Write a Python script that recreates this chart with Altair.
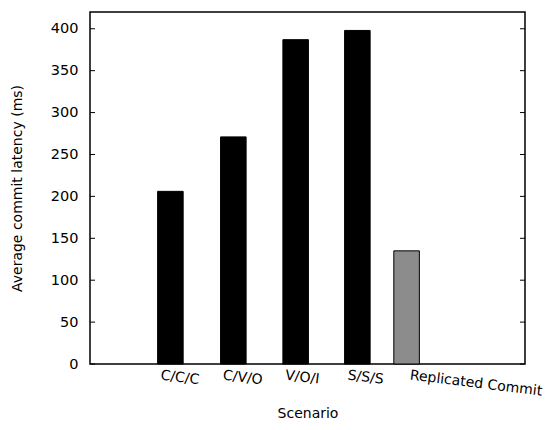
import altair as alt
import pandas as pd

categories = ["C/C/C", "C/V/O", "V/O/I", "S/S/S", "Replicated Commit"]
latency = [206, 271, 387, 398, 135]
bar_center = [0.15, 1.16, 2.16, 3.15, 3.94]
bar_style = ["solid", "solid", "solid", "solid", "hatch"]
tick_values = [0, 50, 100, 150, 200, 250, 300, 350, 400]
label_pos = [0, 1, 2, 3, 4]

W, H = 435, 352
half = 0.205
FONT = "DejaVu Sans"

df = pd.DataFrame({
    "cat": categories,
    "lat": latency,
    "base": [0] * len(latency),
    "x0": [c - half for c in bar_center],
    "x1": [c + half for c in bar_center],
    "style": bar_style,
})
ticks = pd.DataFrame({"v": tick_values})

label_expr = "[" + ",".join(f"'{c}'" for c in categories) + "][datum.value]"

xscale = alt.Scale(domain=[-1.14, 5.84], nice=False, zero=False)
yscale = alt.Scale(domain=[0, 420], nice=False)

bars = alt.Chart(df).mark_bar(stroke="black", strokeWidth=1).encode(
    x=alt.X("x0:Q", scale=xscale, axis=alt.Axis(
        values=label_pos, labelExpr=label_expr, title="Scenario",
        labelAngle=7, labelAlign="left", labelBaseline="top", labelPadding=4,
        ticks=False, domain=False, grid=False, labelFontSize=14,
        titleFontSize=14, titleFontWeight="normal", titleY=53,
        titleBaseline="alphabetic",
        labelFont=FONT, titleFont=FONT, labelColor="black",
        titleColor="black", labelOverlap=False, labelBound=False)),
    x2="x1:Q",
    y=alt.Y("lat:Q", scale=yscale, axis=alt.Axis(
        values=tick_values, title="Average commit latency (ms)", ticks=False,
        domain=False, grid=False, labelPadding=12, labelFontSize=14.5,
        titleFontSize=14, titleFontWeight="normal", titleX=-73,
        titleBaseline="middle",
        labelFont=FONT, titleFont=FONT,
        labelColor="black", titleColor="black")),
    y2="base:Q",
    fill=alt.Fill("style:N", scale=alt.Scale(domain=["solid", "hatch"], range=["black", "#8c8c8c"]), legend=None),
)

left_ticks = alt.Chart(ticks).mark_rule(color="black", strokeWidth=1).encode(
    y=alt.Y("v:Q", scale=yscale), x=alt.value(0), x2=alt.value(5))
right_ticks = alt.Chart(ticks).mark_rule(color="black", strokeWidth=1).encode(
    y=alt.Y("v:Q", scale=yscale), x=alt.value(W - 5), x2=alt.value(W))

chart = alt.layer(bars, left_ticks, right_ticks).properties(
    width=W, height=H,
    autosize=alt.AutoSizeParams(type="none"),
    padding={"left": 82, "top": 4, "right": 26, "bottom": 58},
).configure_view(stroke="black", strokeWidth=1.5)

chart.save("out.html", embed_options={"renderer": "svg", "actions": False})
